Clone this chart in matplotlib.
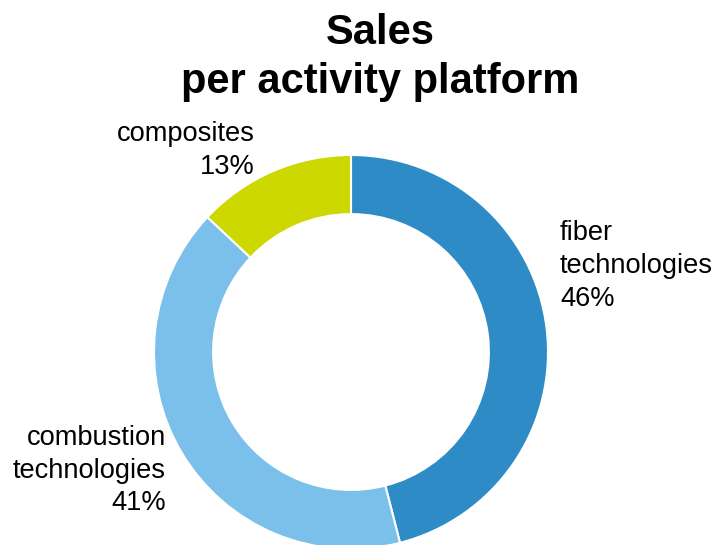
import matplotlib.pyplot as plt

plt.rcParams['font.family'] = ['Liberation Sans', 'DejaVu Sans']

platforms = ['fiber\ntechnologies', 'combustion\ntechnologies', 'composites']
shares = [46, 41, 13]
colors = ['#2E8BC6', '#7BC0EA', '#CDD700']

W, H = 716, 545
fig = plt.figure(figsize=(W / 100, H / 100), dpi=100)

# donut: centre (351, 352) px from top, outer radius ~197 px
cx, cy, r = 351, 352, 197
ax = fig.add_axes([(cx - r) / W, (H - cy - r) / H, 2 * r / W, 2 * r / H])
ax.pie(shares, colors=colors, startangle=90, counterclock=False, radius=1,
       wedgeprops=dict(width=0.3, edgecolor='white', linewidth=1.5))
ax.set_xlim(-1, 1)
ax.set_ylim(-1, 1)
ax.set_aspect('equal')
ax.axis('off')

fig.text(380 / W, 1 - 13 / H, 'Sales\nper activity platform', ha='center', va='top',
         fontsize=30, fontweight='bold', linespacing=1.3)


def px(x, y):
    return x / W, 1 - y / H


labels = [f'{p}\n{s}%' for p, s in zip(platforms, shares)]
fig.text(*px(560, 220), labels[0], ha='left', va='top', fontsize=19.6,
         linespacing=1.36, multialignment='left')
fig.text(*px(166, 425), labels[1], ha='right', va='top', fontsize=19.6,
         linespacing=1.33, multialignment='right')
fig.text(*px(255, 121), labels[2], ha='right', va='top', fontsize=19.6,
         linespacing=1.36, multialignment='right')

fig.savefig('out.png', dpi=100)
